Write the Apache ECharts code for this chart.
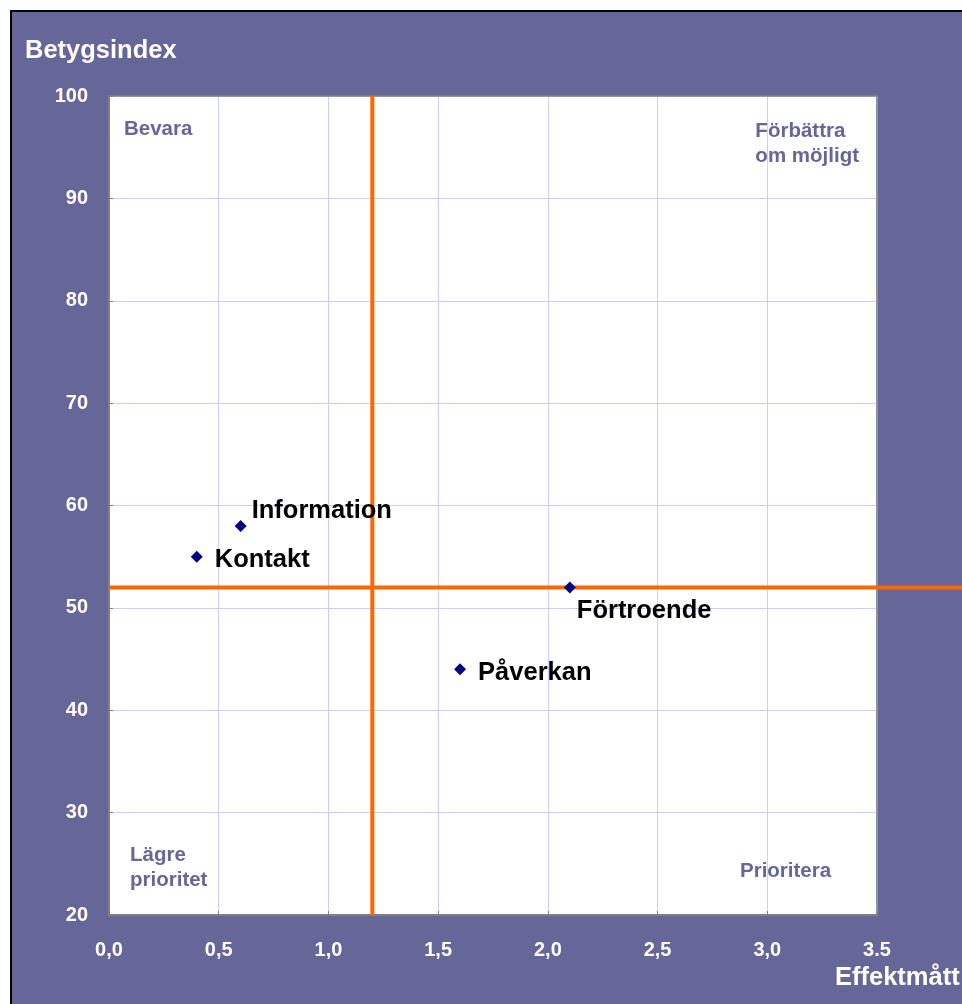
<!DOCTYPE html>
<html>
<head>
<meta charset="utf-8">
<script src="https://cdn.jsdelivr.net/npm/echarts@6/dist/echarts.min.js"></script>
<style>
  html, body { margin: 0; padding: 0; background: #fff; }
  #chart { width: 962px; height: 1004px; }
</style>
</head>
<body>
<div id="chart"></div>
<script>
  // data
  var names = ['Information', 'Kontakt', 'Förtroende', 'Påverkan'];
  var effekt = [0.6, 0.4, 2.1, 1.6];
  var betyg = [58, 55, 52, 44];
  var xTickLabels = ['0,0', '0,5', '1,0', '1,5', '2,0', '2,5', '3,0', '3.5'];
  var refX = 1.2;
  var refY = 52;

  var font = '"Liberation Sans", Arial, sans-serif';
  var bg = '#666699';

  // label placement per point
  var labelCfg = [
    { position: 'right', distance: 5, offset: [0, -15] },
    { position: 'right', distance: 12, offset: [0, 3] },
    { position: 'right', distance: 1, offset: [0, 24] },
    { position: 'right', distance: 12, offset: [0, 4] }
  ];

  var points = [];
  names.forEach(function (n, i) {
    points.push({
      name: n,
      value: [effekt[i], betyg[i]],
      label: labelCfg[i]
    });
  });

  var myChart = echarts.init(document.getElementById('chart'));

  var hiddenAxis = {
    show: false,
    axisLine: { show: false },
    axisTick: { show: false },
    axisLabel: { show: false },
    splitLine: { show: false }
  };

  // plain gray frame line for top / right side of the plot
  var frameAxis = {
    axisLine: { show: true, onZero: false, lineStyle: { color: '#808080', width: 1.5 } },
    axisTick: { show: false },
    axisLabel: { show: false },
    splitLine: { show: false }
  };

  myChart.setOption({
    animation: false,
    backgroundColor: '#fff',
    graphic: [
      {
        type: 'rect',
        shape: { x: 11, y: 11, width: 1000, height: 1050 },
        style: { fill: bg, stroke: '#000', lineWidth: 2 },
        z: -10
      },
      {
        type: 'text', left: 25, top: 38,
        style: { text: 'Betygsindex', fill: '#fff', font: 'bold 25.5px ' + font }
      },
      {
        type: 'text', left: 835, top: 965,
        style: { text: 'Effektmått', fill: '#fff', font: 'bold 25.5px ' + font }
      },
      {
        type: 'text', left: 124, top: 119, z: 10,
        style: { text: 'Bevara', fill: bg, font: 'bold 20.5px ' + font }
      },
      {
        type: 'text', right: 103, top: 119, z: 10,
        style: { text: 'Förbättra\nom möjligt', fill: bg, font: 'bold 20.5px ' + font, align: 'right', lineHeight: 25 }
      },
      {
        type: 'text', left: 130, top: 843, z: 10,
        style: { text: 'Lägre\nprioritet', fill: bg, font: 'bold 20.5px ' + font, lineHeight: 25 }
      },
      {
        type: 'text', left: 740, top: 861, z: 10,
        style: { text: 'Prioritera', fill: bg, font: 'bold 20.5px ' + font }
      }
    ],
    grid: [
      {
        left: 109,
        top: 96,
        right: 85,
        bottom: 89,
        show: true,
        backgroundColor: '#fff',
        borderColor: '#808080',
        borderWidth: 1
      },
      {
        // wider grid so the horizontal reference line runs to the right edge
        left: 109,
        top: 96,
        right: -3,
        bottom: 89
      }
    ],
    xAxis: [
      {
        type: 'value',
        gridIndex: 0,
        min: 0,
        max: 3.5,
        interval: 0.5,
        axisLine: { show: true, onZero: false, lineStyle: { color: '#808080', width: 2 } },
        axisTick: { show: true, inside: true, length: 4, lineStyle: { color: '#808080' } },
        axisLabel: {
          margin: 25,
          color: '#fff',
          fontFamily: font,
          fontWeight: 'bold',
          fontSize: 20,
          formatter: function (v) {
            return xTickLabels[Math.round(v / 0.5)];
          }
        },
        splitLine: { show: true, lineStyle: { color: '#ccccff', width: 1 } }
      },
      Object.assign({ type: 'value', gridIndex: 1, min: 0, max: 3.9 }, hiddenAxis),
      Object.assign({ type: 'value', gridIndex: 0, position: 'top', min: 0, max: 3.5 }, frameAxis)
    ],
    yAxis: [
      {
        type: 'value',
        gridIndex: 0,
        min: 20,
        max: 100,
        interval: 10,
        axisLine: { show: true, onZero: false, lineStyle: { color: '#808080', width: 2 } },
        axisTick: { show: true, inside: true, length: 4, lineStyle: { color: '#808080' } },
        axisLabel: {
          margin: 21,
          color: '#fff',
          fontFamily: font,
          fontWeight: 'bold',
          fontSize: 20
        },
        splitLine: { show: true, lineStyle: { color: '#ccccff', width: 1 } }
      },
      Object.assign({ type: 'value', gridIndex: 1, min: 20, max: 100 }, hiddenAxis),
      Object.assign({ type: 'value', gridIndex: 0, position: 'right', min: 20, max: 100 }, frameAxis)
    ],
    series: [
      {
        type: 'line',
        xAxisIndex: 0,
        yAxisIndex: 0,
        data: [[refX, 20], [refX, 100]],
        symbol: 'none',
        lineStyle: { color: '#ff6600', width: 4 },
        z: 3,
        silent: true
      },
      {
        type: 'line',
        xAxisIndex: 1,
        yAxisIndex: 1,
        data: [[0, refY], [3.9, refY]],
        symbol: 'none',
        lineStyle: { color: '#ff6600', width: 4 },
        z: 3,
        silent: true
      },
      {
        type: 'scatter',
        xAxisIndex: 0,
        yAxisIndex: 0,
        symbol: 'diamond',
        symbolSize: 12,
        itemStyle: { color: '#000080', opacity: 1 },
        z: 5,
        label: {
          show: true,
          formatter: '{b}',
          color: '#000',
          opacity: 1,
          fontFamily: font,
          fontWeight: 'bold',
          fontSize: 25.5
        },
        data: points
      }
    ]
  });
</script>
</body>
</html>
